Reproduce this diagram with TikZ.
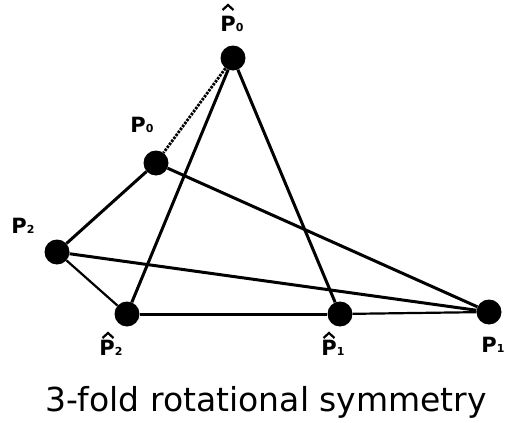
\documentclass[tikz,border=0pt]{standalone}
\usepackage{fontspec}
\setmainfont{DejaVu Sans}
\usetikzlibrary{positioning}
\newcommand{\subidx}[1]{{\fontsize{11}{11}\selectfont #1}}
\newcommand{\plainP}[1]{\textbf{P\subidx{#1}}}

\begin{document}
\begin{tikzpicture}[x=1pt, y=-1pt,
  every node/.style={font=\fontsize{21}{24}\selectfont},
  dot/.style={circle, fill=black, inner sep=0pt, minimum size=25pt},
  edge/.style={line width=3pt},
  thinedge/.style={line width=2.2pt},
  dotted edge/.style={line width=2.8pt, dash pattern=on 2.5pt off 1.2pt},
  hatstroke/.style={line width=2.2pt}]
  \useasboundingbox (0,0) rectangle (507,423);
  % ---------------- points ----------------
  \node[dot] (ph0) at (233,58) {};
  \node[dot] (p0) at (156,163) {};
  \node[dot] (p2) at (57,252) {};
  \node[dot] (ph2) at (127,314) {};
  \node[dot] (ph1) at (340,314) {};
  \node[dot] (p1) at (489,312) {};
  % ---------------- edges ----------------
  \draw[dotted edge] (ph0) -- (p0);
  \draw[edge] (ph0) -- (ph2) (ph0) -- (ph1);
  \draw[edge] (p0) -- (p2) (p0) -- (p1) (p2) -- (p1);
  \draw[edge] (ph2) -- (ph1);
  \draw[thinedge] (p2) -- (ph2) (ph1) -- (p1);
  % ---------------- labels ----------------
  \node (ph0lbl) at (232,24) {\plainP{0}};
  \node (p0lbl) at (142,125) {\plainP{0}};
  \node (p2lbl) at (23,226) {\plainP{2}};
  \node (ph2lbl) at (111,348) {\plainP{2}};
  \node (ph1lbl) at (333,348) {\plainP{1}};
  \node (p1lbl) at (493,345) {\plainP{1}};
  % hats over the P
  \foreach \x/\y in {228/5, 108/333, 329/333}
    \draw[hatstroke] (\x-5.5,\y+5) -- (\x,\y) -- (\x+5.5,\y+5);
  \node[font=\fontsize{33}{36}\selectfont] (title) at (266,402) {3-fold rotational symmetry};
\end{tikzpicture}
\end{document}
